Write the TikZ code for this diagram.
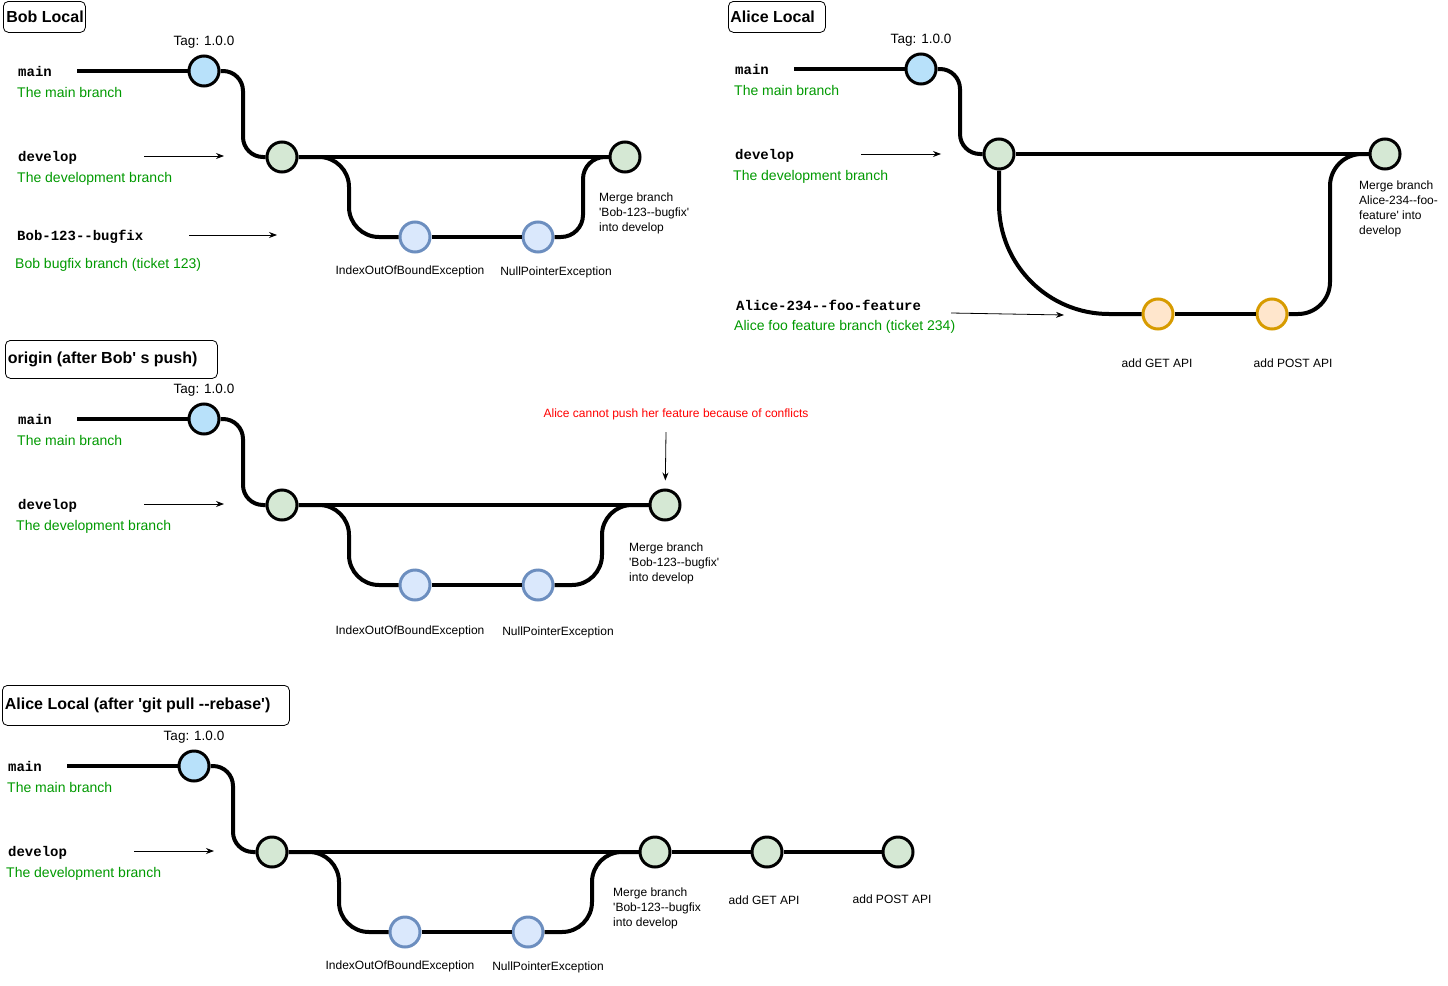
\documentclass[tikz,border=0pt]{standalone}
\usepackage{fontspec}
\setmainfont{Liberation Sans}[Ligatures=TeXOff]
\setmonofont{Liberation Mono}[Ligatures=TeXOff]
\usetikzlibrary{arrows.meta}
\definecolor{mainblue}{RGB}{184,225,250}
\definecolor{devgreen}{HTML}{D5E8D4}
\definecolor{bugfill}{HTML}{DAE8FC}
\definecolor{bugborder}{HTML}{6C8EBF}
\definecolor{featfill}{HTML}{FFE6CC}
\definecolor{featborder}{HTML}{D79B00}
\definecolor{dgreen}{RGB}{0,153,0}
\begin{document}
\begin{tikzpicture}[x=1pt,y=-1pt,
  branch/.style={line width=4pt},
  commit/.style={circle, line width=3pt, minimum size=30pt, inner sep=0pt},
  mainc/.style={commit, draw=black, fill=mainblue},
  devc/.style={commit, draw=black, fill=devgreen},
  bugc/.style={commit, draw=bugborder, fill=bugfill},
  featc/.style={commit, draw=featborder, fill=featfill},
  brname/.style={font=\ttfamily\bfseries\fontsize{14}{16}\selectfont, anchor=west, inner sep=0pt, yshift=-1.5pt},
  brdesc/.style={font=\fontsize{14}{16}\selectfont, text=dgreen, anchor=west, inner sep=0pt, yshift=-1.5pt},
  small/.style={font=\fontsize{12}{15}\selectfont, inner sep=0pt, yshift=-1pt},
  msg/.style={small, align=left, anchor=west},
  tagtext/.style={font=\fontsize{13.5}{16}\selectfont, inner sep=0pt, yshift=-1.5pt},
  titlebox/.style={draw, rounded corners=5pt, line width=0.8pt, font=\bfseries\fontsize{16}{19}\selectfont, anchor=north west, inner sep=0pt},
  ptr/.style={-{Stealth[length=8pt,width=6pt]}, line width=0.8pt}
]
\useasboundingbox (0,0) rectangle (1448,985);

%================ Bob Local ================
\node[titlebox, minimum width=82pt, minimum height=31pt] (bt) at (3,1) {\makebox[76pt][l]{Bob Local}};
\node[tagtext] (btag) at (204,41) {Tag: 1.0.0};
\node[brname] (bmn) at (18,70) {main};
\node[brdesc] (bmd) at (17,91) {The main branch};
\node[brname] (bdn) at (18,156) {develop};
\node[brdesc] (bdd) at (17,177) {The development branch};
\node[brname] (bbn) at (17,235) {Bob-123--bugfix};
\node[brdesc] (bbd) at (15,263) {Bob bugfix branch (ticket 123)};
\coordinate (ba1s) at (144,156); \coordinate (ba1e) at (224,156);
\coordinate (ba2s) at (189,235); \coordinate (ba2e) at (277,235);
\draw[ptr] (ba1s) -- (ba1e);
\draw[ptr] (ba2s) -- (ba2e);
\node[mainc] (bm) at (204,71) {};
\node[devc] (bd) at (282,157) {};
\node[bugc] (bi) at (415,237) {};
\node[bugc] (bn) at (538,237) {};
\node[devc] (bg) at (625,157) {};
\coordinate (bms) at (77,71);
\draw[branch] (bms) -- (bm);
\draw[branch, rounded corners=20pt] (bm.east) -- (243,71) -- (243,157) -- (bd.west);
\draw[branch] (bd) -- (bg);
\draw[branch, rounded corners=30pt] (bd.east) -- (349,157) -- (349,237) -- (bi.west);
\draw[branch] (bi) -- (bn);
\draw[branch, rounded corners=22pt] (bn.east) -- (583,237) -- (583,157) -- (bg.west);
\node[small] (bil) at (410,270) {IndexOutOfBoundException};
\node[small] (bnl) at (556,271) {NullPointerException};
\node[msg] (bgl) at (599,212) {Merge branch\\'Bob-123--bugfix'\\into develop};

%================ Alice Local ================
\node[titlebox, minimum width=97pt, minimum height=31pt] (at) at (728,1) {\makebox[93pt][l]{Alice Local}};
\node[tagtext] (atag) at (921,39) {Tag: 1.0.0};
\node[brname] (amn) at (735,68) {main};
\node[brdesc] (amd) at (734,89) {The main branch};
\node[brname] (adn) at (735,154) {develop};
\node[brdesc] (add) at (733,175) {The development branch};
\node[brname] (afn) at (736,304) {Alice-234--foo-feature};
\node[brdesc] (afd) at (734,325) {Alice foo feature branch (ticket 234)};
\coordinate (aa1s) at (861,154); \coordinate (aa1e) at (941,154);
\coordinate (aa2s) at (951,313); \coordinate (aa2e) at (1064,315);
\draw[ptr] (aa1s) -- (aa1e);
\draw[ptr] (aa2s) -- (aa2e);
\node[mainc] (am) at (921,69) {};
\node[devc] (ad) at (999,154) {};
\node[devc] (ag) at (1385,154) {};
\node[featc] (aget) at (1158,314) {};
\node[featc] (apost) at (1272,314) {};
\coordinate (ams) at (794,69);
\draw[branch] (ams) -- (am);
\draw[branch, rounded corners=20pt] (am.east) -- (960,69) -- (960,154) -- (ad.west);
\draw[branch] (ad) -- (ag);
\draw[branch, rounded corners=110pt] (ad.south) -- (999,314) -- (aget.west);
\draw[branch] (aget) -- (apost);
\draw[branch, rounded corners=32pt] (apost.east) -- (1330,314) -- (1330,154) -- (ag.west);
\node[small] (agetl) at (1157,362) {add GET API};
\node[small] (apostl) at (1293,362) {add POST API};
\node[msg] (agl) at (1359,208) {Merge branch\\Alice-234--foo-\\feature' into\\develop};

%================ origin ================
\node[titlebox, minimum width=212pt, minimum height=38pt] (ot) at (5,340) {\makebox[207pt][l]{\raisebox{3pt}{origin (after Bob' s push)}}};
\node[tagtext] (otag) at (204,389) {Tag: 1.0.0};
\node[brname] (omn) at (18,418) {main};
\node[brdesc] (omd) at (17,439) {The main branch};
\node[brname] (odn) at (18,504) {develop};
\node[brdesc] (odd) at (16,525) {The development branch};
\coordinate (oa1s) at (144,504); \coordinate (oa1e) at (224,504);
\draw[ptr] (oa1s) -- (oa1e);
\node[mainc] (om) at (204,419) {};
\node[devc] (od) at (282,505) {};
\node[bugc] (oi) at (415,585) {};
\node[bugc] (on) at (538,585) {};
\node[devc] (og) at (665,505) {};
\coordinate (oms) at (77,419);
\draw[branch] (oms) -- (om);
\draw[branch, rounded corners=20pt] (om.east) -- (243,419) -- (243,505) -- (od.west);
\draw[branch] (od) -- (og);
\draw[branch, rounded corners=30pt] (od.east) -- (349,505) -- (349,585) -- (oi.west);
\draw[branch] (oi) -- (on);
\draw[branch, rounded corners=30pt] (on.east) -- (602,585) -- (602,505) -- (og.west);
\node[small] (oil) at (410,630) {IndexOutOfBoundException};
\node[small] (onl) at (558,631) {NullPointerException};
\node[msg] (ogl) at (629,562) {Merge branch\\'Bob-123--bugfix'\\into develop};
\node[small, text=red] (ored) at (676,413) {Alice cannot push her feature because of conflicts};
\coordinate (ors) at (666,432);
\draw[ptr, shorten >=8pt] (ors) -- (og);

%================ Alice Local after rebase ================
\node[titlebox, minimum width=287pt, minimum height=40pt] (ct) at (2,685) {\makebox[282pt][l]{\raisebox{3pt}{Alice Local (after 'git pull --rebase')}}};
\node[tagtext] (ctag) at (194,736) {Tag: 1.0.0};
\node[brname] (cmn) at (8,765) {main};
\node[brdesc] (cmd) at (7,786) {The main branch};
\node[brname] (cdn) at (8,851) {develop};
\node[brdesc] (cdd) at (6,872) {The development branch};
\coordinate (ca1s) at (134,851); \coordinate (ca1e) at (214,851);
\draw[ptr] (ca1s) -- (ca1e);
\node[mainc] (cm) at (194,766) {};
\node[devc] (cd) at (272,852) {};
\node[bugc] (ci) at (405,932) {};
\node[bugc] (cn) at (528,932) {};
\node[devc] (cg) at (655,852) {};
\node[devc] (cget) at (767,852) {};
\node[devc] (cpost) at (898,852) {};
\coordinate (cms) at (67,766);
\draw[branch] (cms) -- (cm);
\draw[branch, rounded corners=20pt] (cm.east) -- (233,766) -- (233,852) -- (cd.west);
\draw[branch] (cd) -- (cg);
\draw[branch, rounded corners=30pt] (cd.east) -- (339,852) -- (339,932) -- (ci.west);
\draw[branch] (ci) -- (cn);
\draw[branch, rounded corners=30pt] (cn.east) -- (592,932) -- (592,852) -- (cg.west);
\draw[branch] (cg) -- (cget);
\draw[branch] (cget) -- (cpost);
\node[small] (cil) at (400,965) {IndexOutOfBoundException};
\node[small] (cnl) at (548,966) {NullPointerException};
\node[msg] (cgl) at (613,907) {Merge branch\\'Bob-123--bugfix\\into develop};
\node[small] (cgetl) at (764,899) {add GET API};
\node[small] (cpostl) at (892,898) {add POST API};
\end{tikzpicture}
\end{document}
